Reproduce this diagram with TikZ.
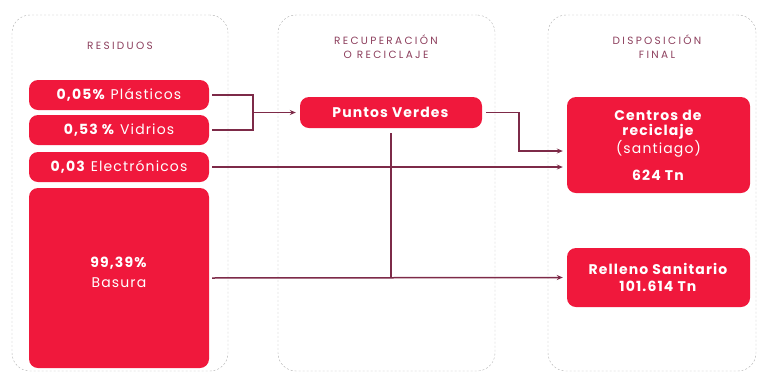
\documentclass[tikz,border=0pt]{standalone}
\usepackage{fontspec}
\setmainfont{Poppins}
\newfontfamily\boxfont[LetterSpace=8]{Poppins}
\newfontfamily\titlefont[LetterSpace=22]{Poppins}
\usetikzlibrary{arrows.meta}

\definecolor{boxred}{RGB}{240,24,60}
\definecolor{linemaroon}{RGB}{125,42,72}
\definecolor{titlemaroon}{RGB}{140,62,92}
\definecolor{dashgray}{RGB}{175,175,175}

\tikzset{
  colbox/.style={draw=dashgray, dash pattern=on 2pt off 2pt, rounded corners=18pt},
  redbox/.style={fill=boxred, rounded corners=9pt, text=white, align=center,
    font=\boxfont\fontsize{14}{15}\selectfont, inner sep=0pt},
  coltitle/.style={text=titlemaroon, align=center, font=\titlefont\fontsize{10.5}{14}\selectfont},
  link/.style={draw=linemaroon, line width=1.5pt},
  linkarrow/.style={link, -{Stealth[length=6pt,width=5pt]}, shorten >=4pt}
}

\begin{document}
\begin{tikzpicture}[x=1pt,y=-1pt]
    \useasboundingbox (0,0) rectangle (758,376);
    % columns
    \node[colbox, minimum width=216pt, minimum height=356pt] (colres) at (120,193) {};
    \node[colbox, minimum width=217pt, minimum height=356pt] (colrec) at (386.5,193) {};
    \node[colbox, minimum width=208pt, minimum height=356pt] (coldis) at (652,193) {};
    \node[coltitle] (tres) at (120,46) {RESIDUOS};
    \node[coltitle] (trec) at (386,47) {RECUPERACIÓN\\O RECICLAJE};
    \node[coltitle] (tdis) at (657,47) {DISPOSICIÓN\\FINAL};
    % residuos
    \node[redbox, minimum width=180pt, minimum height=30pt] (plast) at (119,95) {\textbf{0,05\%} Plásticos};
    \node[redbox, minimum width=180pt, minimum height=30pt] (vidr) at (119,130) {\textbf{0,53 \%} Vidrios};
    \node[redbox, minimum width=180pt, minimum height=30pt] (elec) at (119,167) {\textbf{0,03} Electrónicos};
    \node[redbox, minimum width=180pt, minimum height=180pt] (basura) at (119,278) {\textbf{99,39\%}\\[5pt]Basura\\[-3pt]\mbox{}};
    % recuperacion
    \node[redbox, minimum width=182pt, minimum height=31pt] (puntos) at (391,112.5) {\textbf{Puntos Verdes}};
    % disposicion
    \node[redbox, minimum width=183pt, minimum height=96pt] (centros) at (658.5,145)
      {\textbf{Centros de}\\\textbf{reciclaje}\\(santiago)\\[12pt]\textbf{624 Tn}};
    \node[redbox, minimum width=183pt, minimum height=59pt] (relleno) at (658.5,277.5)
      {\textbf{Relleno Sanitario}\\[2pt]\textbf{101.614 Tn}};
    % connectors
    \coordinate (jplast) at (253,112.5);
    \coordinate (jpunt) at (519,151);
    \draw[link, shorten <=3pt] (plast.east) -| (jplast);
    \draw[link, shorten <=3pt] (vidr.east) -| (jplast);
    \draw[linkarrow] (jplast) -- (puntos.west);
    \draw[linkarrow, shorten <=4pt] (puntos.east) -| (jpunt) -- (centros.west |- jpunt);
    \draw[linkarrow, shorten <=3pt] (elec.east) -- (elec.east -| centros.west);
    \draw[linkarrow, shorten <=3pt] (basura.east) -- (relleno.west);
    \draw[link, shorten <=5pt] (puntos.south) -- (puntos.south |- basura.east);
\end{tikzpicture}
\end{document}
